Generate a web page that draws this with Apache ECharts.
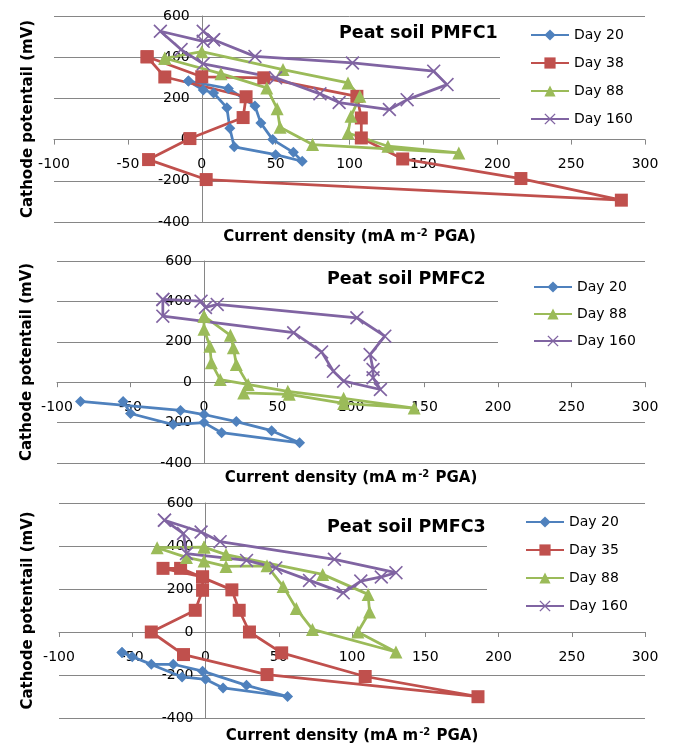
<!DOCTYPE html>
<html>
<head>
<meta charset="utf-8">
<script src="https://cdn.jsdelivr.net/npm/echarts@6/dist/echarts.min.js"></script>
<style>
html, body { margin: 0; padding: 0; background: #fff; }
#main { width: 673px; height: 744px; }
</style>
</head>
<body>
<div id="main"></div>
<script>
// axis ticks (same for the three panels)
var xMin = -100, xMax = 300, xStep = 50;
var yMin = -400, yMax = 600, yStep = 200;

var titles = ['Peat soil PMFC1', 'Peat soil PMFC2', 'Peat soil PMFC3'];
var yName = 'Cathode potentail (mV)';

// [current density, cathode potential], in plotting order
// PMFC1
var p1Day20 = [[-9, 284], [1, 241], [8, 226], [17, 155], [19, 55], [22, -35], [50, -73], [68, -105], [62, -62], [48, 0], [40, 80], [36, 163], [18, 248], [-9, 284]];
var p1Day38 = [[-37, 402], [-25, 304], [30, 208], [28, 107], [-8, 5], [-36, -97], [3, -194], [284, -294], [216, -189], [136, -94], [108, 8], [108, 105], [105, 210], [42, 300], [0, 305], [-37, 402]];
var p1Day88 = [[-25, 395], [0, 427], [55, 340], [99, 275], [107, 210], [101, 113], [99, 32], [126, -32], [174, -65], [75, -24], [53, 60], [51, 150], [44, 251], [13, 320], [-25, 395]];
var p1Day160 = [[1, 526], [8, 485], [36, 404], [102, 372], [157, 332], [166, 267], [139, 194], [127, 146], [93, 180], [80, 222], [50, 300], [1, 368], [-14, 437], [-28, 526], [1, 477], [8, 485]];
// PMFC2
var p2Day20 = [[-84, -95], [-16, -140], [0, -160], [22, -195], [46, -240], [65, -300], [12, -250], [0, -200], [-21, -210], [-50, -155], [-55, -95]];
var p2Day88 = [[0, 327], [0, 262], [4, 178], [5, 96], [11, 13], [57, -45], [95, -80], [143, -128], [95, -105], [58, -60], [27, -53], [30, -11], [22, 88], [20, 170], [18, 232], [0, 327]];
var p2Day160 = [[-28, 410], [-2, 401], [1, 370], [9, 385], [104, 319], [123, 228], [113, 137], [115, 63], [115, 22], [120, -36], [95, 5], [88, 54], [80, 150], [61, 245], [-28, 327], [-28, 410]];
// PMFC3
var p3Day20 = [[-57, -95], [-37, -150], [-22, -150], [-2, -182], [28, -248], [56, -300], [12, -260], [0, -220], [-16, -209], [-50, -115], [-57, -95]];
var p3Day35 = [[-2, 256], [-2, 194], [-7, 101], [-37, 0], [-15, -105], [42, -198], [186, -301], [109, -207], [52, -97], [30, 0], [23, 101], [18, 196], [-17, 296], [-29, 296], [-2, 256]];
var p3Day88 = [[-1, 395], [14, 360], [80, 268], [111, 175], [112, 93], [104, 0], [130, -93], [73, 12], [62, 109], [53, 212], [42, 308], [14, 305], [-1, 330], [-13, 347], [-33, 392], [-1, 395]];
var p3Day160 = [[-28, 520], [-3, 465], [10, 420], [88, 338], [130, 276], [120, 256], [106, 237], [94, 182], [71, 240], [48, 298], [28, 333], [-13, 365], [-15, 458], [-28, 520]];

var panelSeries = [
    [['Day 20', p1Day20], ['Day 38', p1Day38], ['Day 88', p1Day88], ['Day 160', p1Day160]],
    [['Day 20', p2Day20], ['Day 88', p2Day88], ['Day 160', p2Day160]],
    [['Day 20', p3Day20], ['Day 35', p3Day35], ['Day 88', p3Day88], ['Day 160', p3Day160]]
];

var FONT = 'DejaVu Sans';
var GRAY = '#868686';
var xMark = 'path://M0,1L1,0L6,5L11,0L12,1L7,6L12,11L11,12L6,7L1,12L0,11L5,6Z';
var looks = {
    'Day 20': { color: '#4F81BD', symbol: 'diamond', size: 11 },
    'Day 35': { color: '#C0504D', symbol: 'rect', size: 13 },
    'Day 38': { color: '#C0504D', symbol: 'rect', size: 13 },
    'Day 88': { color: '#9BBB59', symbol: 'triangle', size: 13 },
    'Day 160': { color: '#8064A2', symbol: xMark, size: 14 }
};

// layout of each panel (pixels)
var boxes = [
    { left: 54, top: 16, width: 591, height: 206, yGap: 166, xGap: 89, titleX: 339, titleY: 24,
      leg: { left: 500, top: 20, padding: [8, 25, 9, 30], gap: 14 } },
    { left: 57, top: 261, width: 588, height: 202, yGap: 169, xGap: 87, titleX: 327, titleY: 270,
      leg: { left: 498, top: 265, padding: [15, 25, 21, 35], gap: 13 } },
    { left: 59, top: 503, width: 586, height: 215, yGap: 170, xGap: 95, titleX: 327, titleY: 518,
      leg: { left: 487, top: 508, padding: [7, 25, 11, 38], gap: 14 } }
];

var option = {
    animation: false,
    backgroundColor: '#fff',
    title: [], legend: [], grid: [], xAxis: [], yAxis: [], series: []
};

for (var i = 0; i < boxes.length; i++) {
    var b = boxes[i];
    // the axes cross at 0: shift them from the grid edges to the zero lines
    var yShift = b.width * (0 - xMin) / (xMax - xMin);
    var xShift = b.height * (0 - yMin) / (yMax - yMin);
    option.grid.push({ left: b.left, top: b.top, width: b.width, height: b.height, containLabel: false, outerBoundsMode: 'none' });
    option.title.push({
        text: titles[i], left: b.titleX, top: b.titleY, padding: 0,
        textStyle: { fontFamily: FONT, fontWeight: 'bold', fontSize: 17.5, color: '#000' }
    });
    option.xAxis.push({
        type: 'value', gridIndex: i, min: xMin, max: xMax, interval: xStep,
        position: 'bottom', offset: -xShift,
        name: 'Current density (mA m{sup|-2} PGA)', nameLocation: 'middle', nameGap: b.xGap,
        nameTextStyle: {
            fontFamily: FONT, fontWeight: 'bold', fontSize: 15, color: '#000',
            rich: { sup: { fontFamily: FONT, fontWeight: 'bold', fontSize: 10, color: '#000', verticalAlign: 'top', padding: [0, 1, 8, 1] } }
        },
        axisLine: { show: true, onZero: false, lineStyle: { color: GRAY, width: 1 } },
        axisTick: { show: true, length: 5, lineStyle: { color: GRAY } },
        axisLabel: { margin: 18, fontFamily: FONT, fontSize: 14, color: '#000' },
        splitLine: { show: false }
    });
    option.yAxis.push({
        type: 'value', gridIndex: i, min: yMin, max: yMax, interval: yStep,
        position: 'left', offset: -yShift,
        name: yName, nameLocation: 'middle', nameRotate: 90, nameGap: b.yGap,
        nameTextStyle: { fontFamily: FONT, fontWeight: 'bold', fontSize: 15, color: '#000' },
        axisLine: { show: true, onZero: false, lineStyle: { color: GRAY, width: 1 } },
        axisTick: { show: false },
        axisLabel: { margin: 12, fontFamily: FONT, fontSize: 14, color: '#000' },
        splitLine: { show: true, lineStyle: { color: GRAY, width: 1 } }
    });
    var names = [];
    for (var j = 0; j < panelSeries[i].length; j++) {
        var nm = panelSeries[i][j][0];
        var lk = looks[nm];
        names.push(nm);
        option.series.push({
            name: nm, type: 'line', xAxisIndex: i, yAxisIndex: i,
            data: panelSeries[i][j][1],
            symbol: lk.symbol, symbolSize: lk.size, showAllSymbol: true,
            itemStyle: { color: lk.color },
            lineStyle: { color: lk.color, width: 2.75 }
        });
    }
    option.legend.push({
        data: names, orient: 'vertical', left: b.leg.left, top: b.leg.top,
        padding: b.leg.padding, itemGap: b.leg.gap, itemWidth: 38, itemHeight: 14,
        backgroundColor: '#fff', selectedMode: false,
        textStyle: { fontFamily: FONT, fontSize: 14, color: '#000', lineHeight: 14 }
    });
}

var chart = echarts.init(document.getElementById('main'));
chart.setOption(option);
</script>
</body>
</html>
